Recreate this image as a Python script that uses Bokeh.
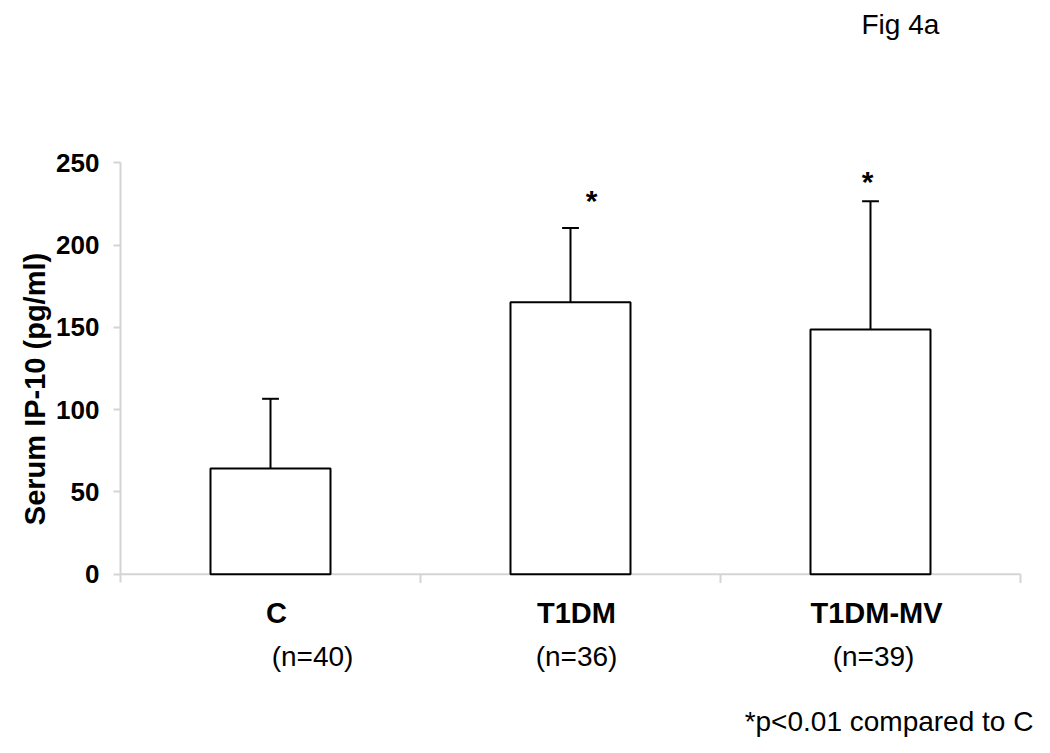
from bokeh.plotting import figure
from bokeh.models import Range1d, FixedTicker, ColumnDataSource
from bokeh.core.properties import value
from bokeh.embed import file_html
from bokeh.resources import INLINE

# ---- data ----
categories = ["C", "T1DM", "T1DM-MV"]
n_labels = ["(n=40)", "(n=36)", "(n=39)"]
means = [64.2, 165.3, 148.7]
sd_upper = [106.6, 210.3, 226.7]
significant = [False, True, True]
y_ticks = [0, 50, 100, 150, 200, 250]
y_title = "Serum IP-10 (pg/ml)"
fig_title = "Fig 4a"
footnote = "*p<0.01 compared to C"

# ---- styles ----
FONT = "Liberation Sans"
AXIS_GREY = "#d4d4d4"
n_dx = [0.14, 0.02, 0.01]
star_dx = [0.0, 0.07, -0.01]
star_dy = [0.0, 16.5, 12.0]

xs = [i + 0.5 for i in range(len(categories))]

p = figure(width=1034, height=737, output_backend="svg", toolbar_location=None,
           x_range=Range1d(0, 3.0467), y_range=Range1d(-99.2, 324.3),
           x_axis_location=None, min_border_left=120, min_border_right=0,
           min_border_top=40, min_border_bottom=0)
p.outline_line_color = None
p.xgrid.visible = False
p.ygrid.visible = False
p.background_fill_color = "white"
p.border_fill_color = "white"

p.title.text = fig_title
p.title.align = "left"
p.title.offset = 741
p.title.text_font = FONT
p.title.text_font_style = "normal"
p.title.text_font_size = "28px"
p.title.text_color = "black"
p.title.standoff = 2

yax = p.yaxis[0]
yax.ticker = FixedTicker(ticks=y_ticks)
yax.bounds = (-5.3, 250)
yax.axis_line_color = AXIS_GREY
yax.axis_line_width = 2
yax.major_tick_line_color = AXIS_GREY
yax.major_tick_line_width = 2
yax.major_tick_out = 7
yax.major_tick_in = 0
yax.minor_tick_line_color = None
yax.major_label_standoff = 14
yax.major_label_text_font = FONT
yax.major_label_text_font_style = "bold"
yax.major_label_text_font_size = "26px"
yax.major_label_text_color = "black"
yax.axis_label = y_title
yax.axis_label_standoff = 2
yax.axis_label_text_font = FONT
yax.axis_label_text_font_style = "bold"
yax.axis_label_text_font_size = "29px"
yax.axis_label_text_color = "black"

# x axis line and ticks (category boundaries)
p.segment(x0=[0], y0=[0], x1=[len(categories)], y1=[0], line_color=AXIS_GREY, line_width=2)
bx = list(range(1, len(categories) + 1))
p.segment(x0=bx, y0=[0] * len(bx), x1=bx, y1=[-5.3] * len(bx), line_color=AXIS_GREY, line_width=2)

# bars
src = ColumnDataSource(dict(x=xs, top=means, up=sd_upper))
p.vbar(x="x", top="top", bottom=0, width=0.4, source=src,
       fill_color="white", line_color="black", line_width=2)
# error bars (upper only)
p.segment(x0="x", y0="top", x1="x", y1="up", source=src, line_color="black", line_width=2)
cap = 0.028
p.segment(x0=[x - cap for x in xs], y0=sd_upper, x1=[x + cap for x in xs], y1=sd_upper,
          line_color="black", line_width=2)

# significance stars
sx = [xs[i] + star_dx[i] for i in range(len(xs)) if significant[i]]
sy = [sd_upper[i] + star_dy[i] for i in range(len(xs)) if significant[i]]
p.text(x=sx, y=sy, text=["*"] * len(sx), text_font=value(FONT), text_font_size="30px",
       text_font_style="bold", text_align="center", text_baseline="alphabetic",
       text_color="black")

# category labels
p.text(x=[x + 0.02 for x in xs], y=[-23.3] * len(xs), text=categories, text_font=value(FONT),
       text_font_style="bold", text_font_size="29px", text_align="center",
       text_baseline="alphabetic", text_color="black")
p.text(x=[xs[i] + n_dx[i] for i in range(len(xs))], y=[-50.0] * len(xs), text=n_labels,
       text_font=value(FONT), text_font_size="28px", text_align="center",
       text_baseline="alphabetic", text_color="black")

# footnote
p.text(x=[3.043], y=[-89.5], text=[footnote], text_font=value(FONT), text_font_size="28px",
       text_align="right", text_baseline="alphabetic", text_color="black")

open("out.html", "w").write(file_html(p, INLINE))
